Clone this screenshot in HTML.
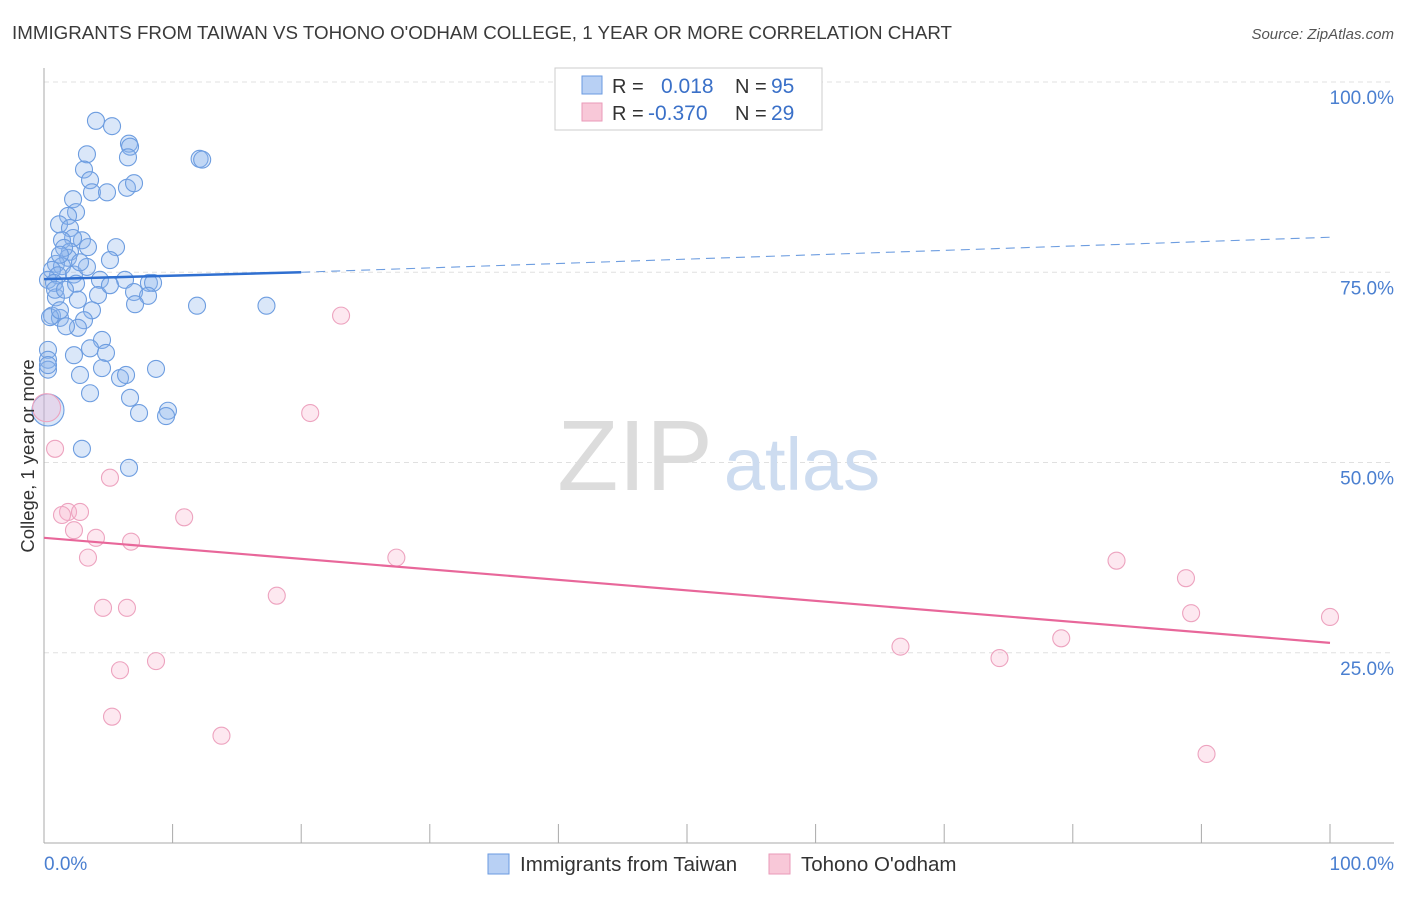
<!DOCTYPE html>
<html><head><meta charset="utf-8"><style>
body{margin:0;background:#fff;font-family:"Liberation Sans",sans-serif}
svg text{font-family:"Liberation Sans",sans-serif}
</style></head><body>
<svg width="1406" height="892">
<text x="12" y="39" font-size="18.8" fill="#3a3a3a" textLength="940" lengthAdjust="spacingAndGlyphs">IMMIGRANTS FROM TAIWAN VS TOHONO O'ODHAM COLLEGE, 1 YEAR OR MORE CORRELATION CHART</text>
<text x="1394" y="39" font-size="15" fill="#555" font-style="italic" text-anchor="end">Source: ZipAtlas.com</text>
<g id="grid"></g>
<text x="635" y="490" font-size="100" fill="#dcdcdc" font-family="Liberation Serif" text-anchor="middle">ZIP</text>
<text x="802" y="490" font-size="74" fill="#cddcf0" text-anchor="middle">atlas</text>
<g id="marks"></g>
<text transform="translate(34,456) rotate(-90)" font-size="18.5" fill="#333" text-anchor="middle">College, 1 year or more</text>
<text x="44" y="870" font-size="19" fill="#4a7fd0">0.0%</text>
<text x="1394" y="870" font-size="19" fill="#4a7fd0" text-anchor="end">100.0%</text>
<g>
<rect x="555" y="68" width="267" height="62" fill="#fff" stroke="#ccc"/>
<rect x="582" y="76" width="20" height="18" fill="#b8d0f4" stroke="#6a9ae0"/>
<rect x="582" y="103" width="20" height="18" fill="#f8c8d8" stroke="#ea9ab8"/>
<text x="612" y="93" font-size="20" fill="#333">R = </text><text x="661" y="93" font-size="21" fill="#3a70c8">0.018</text>
<text x="735" y="93" font-size="20" fill="#333">N = </text><text x="771" y="93" font-size="21" fill="#3a70c8">95</text>
<text x="612" y="120" font-size="20" fill="#333">R = </text><text x="648" y="120" font-size="21" fill="#3a70c8">-0.370</text>
<text x="735" y="120" font-size="20" fill="#333">N = </text><text x="771" y="120" font-size="21" fill="#3a70c8">29</text>
</g>
<g>
<rect x="488" y="854" width="21" height="20" fill="#b8d0f4" stroke="#6a9ae0"/>
<text x="520" y="871" font-size="20.5" fill="#333">Immigrants from Taiwan</text>
<rect x="769" y="854" width="21" height="20" fill="#f8c8d8" stroke="#ea9ab8"/>
<text x="801" y="871" font-size="20.5" fill="#333">Tohono O'odham</text>
</g>
</svg>
<script>
const blueX=[4.04,5.29,6.61,6.69,6.53,12.1,12.3,3.34,3.11,3.58,3.73,4.90,6.45,7.00,2.26,2.49,1.87,1.17,2.02,2.95,2.26,1.40,3.42,5.60,2.02,1.87,0.93,5.13,1.40,0.62,1.09,2.33,3.34,0.31,0.78,2.49,4.35,6.30,8.16,8.48,4.20,0.93,2.64,3.73,7.00,8.09,7.08,11.9,17.3,0.62,1.24,0.47,3.11,2.64,1.71,4.51,3.58,2.33,4.82,0.31,0.31,0.31,4.51,2.80,5.91,6.38,8.71,3.58,6.69,7.39,9.64,9.49,0.31,2.95,6.61,1.24,0.86,1.63,5.13,1.56,2.80,1.24,0.31];
const blueY=[94.9,94.2,91.9,91.5,90.1,89.9,89.8,90.5,88.5,87.1,85.5,85.5,86.1,86.7,84.6,82.9,82.4,81.3,80.8,79.2,79.5,79.2,78.3,78.3,77.7,76.9,76.1,76.6,75.8,75.3,74.6,74.7,75.7,74.0,73.6,73.5,74.0,74.0,73.6,73.6,72.0,71.7,71.4,70.0,72.4,71.9,70.8,70.6,70.6,69.3,69.0,69.1,68.7,67.7,67.9,66.1,65.0,64.1,64.4,64.8,63.5,62.2,62.4,61.5,61.1,61.5,62.3,59.1,58.5,56.5,56.8,56.1,56.9,51.8,49.3,70.0,72.7,72.7,73.3,78.2,76.3,77.3,62.8];
const pinkX=[0.2,0.86,5.13,1.87,1.40,2.80,2.33,4.04,6.77,10.9,3.42,20.7,23.1,27.4,18.1,4.59,6.45,8.71,5.91,5.29,13.8,66.6,74.3,79.1,83.4,88.8,89.2,100,90.4];
const pinkY=[57.2,51.8,48.0,43.5,43.1,43.5,41.1,40.1,39.6,42.8,37.5,56.5,69.3,37.5,32.5,30.9,30.9,23.9,22.7,16.6,14.1,25.8,24.3,26.9,37.1,34.8,30.2,29.7,11.7];
const blueTrend=[74.1,75.0,79.6]; // at x=0, 20 (solid end), 100
const pinkTrend=[40.1,26.3];
const yTicks=[100,75,50,25];
const xTicks=[0,10,20,30,40,50,60,70,80,90,100];
const NS='http://www.w3.org/2000/svg';
const sx=v=>44+v*12.86, sy=v=>843-v*7.61;
function mk(t,a,p){const e=document.createElementNS(NS,t);for(const k in a)e.setAttribute(k,a[k]);p.appendChild(e);return e;}
const grid=document.getElementById('grid'), marks=document.getElementById('marks');
yTicks.forEach(v=>{
 const l=mk('line',{x1:44,x2:1394,y1:sy(v),y2:sy(v),stroke:'#e0e0e0','stroke-dasharray':'5,4'},grid);
 
 
 const t=mk('text',{x:1394,y:sy(v)+22,'font-size':19,fill:'#4a7fd0','text-anchor':'end'},grid);
 t.textContent=v.toFixed(1)+'%';
 
 
});
const ax=mk('line',{x1:44,x2:44,y1:68,y2:843,stroke:'#aaa'},grid);


const bx=mk('line',{x1:44,x2:1394,y1:843,y2:843,stroke:'#aaa'},grid);


xTicks.forEach(v=>{
 const l=mk('line',{x1:sx(v),x2:sx(v),y1:824,y2:843,stroke:'#aaa'},grid);
 
 
});
blueX.forEach((x,i)=>{
 const big=(x<0.5&&(blueY[i]>56&&blueY[i]<58));
 const c=mk('circle',{cx:sx(x),cy:sy(blueY[i]),r:big?16:8.5,fill:'rgba(140,180,235,0.32)',stroke:'#6d9de0','stroke-width':1.1},marks);
 
 
});
pinkX.forEach((x,i)=>{
 const c=mk('circle',{cx:sx(x),cy:sy(pinkY[i]),r:i==0?14:8.5,fill:'rgba(248,180,205,0.3)',stroke:'#eda3bf','stroke-width':1.1},marks);
 
 
});
const b1=mk('line',{x1:sx(0),y1:sy(blueTrend[0]),x2:sx(20),y2:sy(blueTrend[1]),stroke:'#2f6fd0','stroke-width':2.5},marks);


const b2=mk('line',{x1:sx(20),y1:sy(blueTrend[1]),x2:sx(100),y2:sy(blueTrend[2]),stroke:'#6d9de0','stroke-width':1.1,'stroke-dasharray':'9,6'},marks);


const p1=mk('line',{x1:sx(0),y1:sy(pinkTrend[0]),x2:sx(100),y2:sy(pinkTrend[1]),stroke:'#e8679a','stroke-width':2.2},marks);


</script>
</body></html>
